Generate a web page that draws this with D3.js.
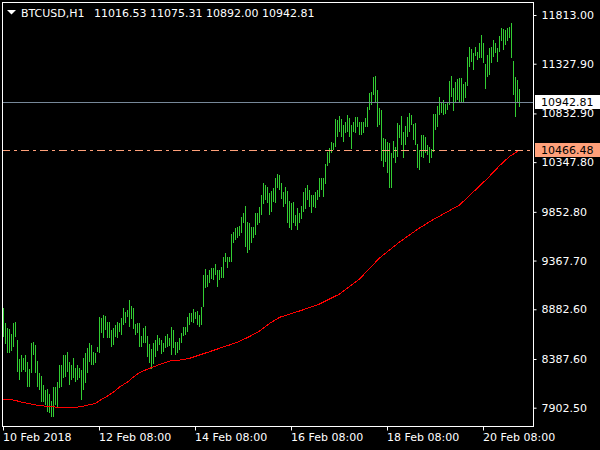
<!DOCTYPE html>
<html><head><meta charset="utf-8">
<script src="https://cdn.jsdelivr.net/npm/d3@7"></script>
<style>
html,body{margin:0;padding:0;background:#000;overflow:hidden}
svg{display:block}
text{font-family:"DejaVu Sans",sans-serif;font-size:11px}
</style>
</head><body>
<svg id="c" width="600" height="450"></svg>
<script>
const symbol = "BTCUSD,H1";
const lastOHLC = ["11016.53", "11075.31", "10892.00", "10942.81"];

const highs = [
8892,8749,8693,8683,8633,8743,8759,8576,8387,8427,8394,8427,8360,8288,8543,8559,8527,8370,8251,8218,
8128,8078,8088,8039,7969,8111,8111,8161,8327,8327,8427,8427,8460,8360,8327,8394,8294,8327,8294,8278,
8394,8444,8494,8543,8527,8460,8444,8510,8808,8792,8825,8815,8759,8759,8676,8693,8726,8752,8743,8792,
8892,8858,8875,8975,8915,8893,8736,8746,8746,8616,8693,8721,8616,8536,8487,8543,8576,8626,8593,8576,
8543,8616,8636,8593,8709,8676,8559,8559,8599,8649,8709,8709,8808,8842,8848,8882,8858,8868,8825,8908,
9224,9280,9224,9273,9296,9290,9330,9273,9273,9300,9406,9446,9406,9406,9632,9655,9695,9705,9712,9798,
9838,9911,9754,9738,9705,9705,9838,9844,9904,10020,10137,10120,10097,10037,10060,10093,10186,10229,10219,10137,
10053,10097,10060,9963,9938,9953,9821,9888,9844,9911,10053,10087,10120,10070,10020,10020,10053,10070,10186,10186,
10186,10329,10451,10485,10551,10535,10774,10767,10807,10774,10717,10750,10817,10784,10717,10750,10794,10800,10750,10750,
10750,10784,10900,11039,11043,11192,11205,11066,10884,10867,10585,10575,10551,10535,10435,10558,10501,10740,10717,10807,
10650,10707,10800,10840,10817,10727,10734,10528,10468,10618,10618,10601,10518,10495,10478,10824,10824,10909,10999,10933,
10966,10923,10949,11155,11208,11089,11148,11175,11182,11182,11122,11148,11397,11497,11474,11431,11497,11441,11531,11614,
11531,11322,11414,11481,11497,11564,11531,11487,11607,11680,11673,11663,11680,11696,11730,11355,11198,11165,11075.31
];
const lows = [
8609,8536,8450,8450,8467,8510,8606,8261,8178,8261,8278,8261,8111,8111,8245,8427,8245,8111,8078,7962,
7962,7929,7862,7846,7812,7812,7929,7912,8095,8111,8195,8211,8261,8128,8178,8195,8161,8178,8195,7979,
8078,8145,8245,8360,8327,8327,8344,8460,8444,8643,8593,8676,8593,8593,8510,8527,8609,8593,8659,8626,
8726,8743,8808,8709,8785,8685,8631,8643,8502,8502,8551,8543,8407,8344,8284,8337,8410,8470,8527,8434,
8460,8494,8510,8517,8427,8494,8427,8444,8477,8549,8616,8626,8659,8726,8759,8743,8782,8726,8709,8726,
8902,9091,9107,9141,9181,9174,9224,9107,9174,9191,9191,9356,9290,9356,9356,9539,9572,9589,9612,9639,
9738,9499,9440,9473,9545,9589,9622,9722,9738,9821,9931,9970,9938,9821,9854,9953,9943,10087,10070,9980,
9904,9931,9744,9689,9672,9738,9712,9672,9738,9778,9854,9878,9970,9904,9838,9904,9888,9970,10003,10070,
10003,10130,10309,10342,10435,10468,10501,10601,10650,10595,10551,10635,10650,10601,10475,10650,10635,10700,10618,10618,
10635,10700,10700,10867,10916,11016,10949,10700,10717,10364,10302,10352,10236,10087,10087,10386,10342,10402,10585,10518,
10386,10518,10601,10650,10717,10568,10518,10286,10269,10402,10386,10435,10420,10342,10392,10451,10668,10700,10817,10834,
10817,10824,10867,10916,10999,10857,10943,10966,10949,10943,10943,10989,11109,11298,11348,11265,11407,11365,11381,11387,
11332,11076,11198,11215,11332,11397,11431,11348,11447,11554,11464,11514,11554,11581,11381,11016,10800,10933,10892
];

const maIndex = [0,5,9,12,15,18,23,28,36,39,42,46,48,52,55,58,62,65,68,73,78,83,88,93,98,103,108,113,118,123,128,133,138,143,148,158,168,178,188,198,207,215,222,228,235,242,248,253,258];
const maValue = [7986,7979,7959,7946,7934,7924,7914,7906,7906,7914,7929,7944,7974,8019,8058,8108,8158,8208,8253,8294,8332,8367,8377,8394,8427,8460,8494,8527,8563,8611,8666,8741,8802,8835,8865,8935,9034,9184,9393,9552,9679,9778,9854,9921,10053,10186,10312,10404,10466.48];

const priceTicks = [11813.00, 11327.90, 10832.90, 10347.80, 9852.80, 9367.70, 8882.60, 8387.60, 7902.50];
const timeLabels = ["10 Feb 2018", "12 Feb 08:00", "14 Feb 08:00", "16 Feb 08:00", "18 Feb 08:00", "20 Feb 08:00"];
const timeIndex = [0, 48, 96, 144, 192, 240];
const bidPrice = 10942.81;
const maLast = 10466.48;

const svg = d3.select("#c");
svg.append("rect").attr("width", 600).attr("height", 450).attr("fill", "#000");

const x = d3.scaleLinear().domain([0, highs.length - 1]).range([3, 3 + 2 * (highs.length - 1)]);
const y = d3.scaleLinear().domain([7902.5, 11813]).range([407.7, 15]);

// bars
svg.append("g").selectAll("rect").data(highs).join("rect")
  .attr("x", (d, i) => x(i))
  .attr("y", d => Math.round(y(d)))
  .attr("width", 1)
  .attr("height", (d, i) => Math.max(1, Math.round(y(lows[i])) - Math.round(y(d))))
  .attr("fill", "#32CD32")
  .attr("shape-rendering", "crispEdges");

// moving average
const maPts = maIndex.map((d, i) => [d, maValue[i]]);
svg.append("path")
  .attr("d", d3.line().x(d => x(d[0]) + 0.5).y(d => y(d[1]))(maPts))
  .attr("fill", "none").attr("stroke", "#ff0000").attr("stroke-width", 1)
  .attr("shape-rendering", "crispEdges");

// bid line
const yb = Math.round(y(bidPrice)) + 0.5;
svg.append("line").attr("x1", 2).attr("x2", 533).attr("y1", yb).attr("y2", yb)
  .attr("stroke", "#778899").attr("stroke-width", 1);

// MA level line
const ym = Math.round(y(maLast)) + 0.5;
svg.append("line").attr("x1", 2).attr("x2", 533).attr("y1", ym).attr("y2", ym)
  .attr("stroke", "#FFA07A").attr("stroke-width", 1).attr("stroke-dasharray", "8,4,3,4");

// frame
svg.append("rect").attr("x", 2.5).attr("y", 2.5).attr("width", 531).attr("height", 424)
  .attr("fill", "none").attr("stroke", "#fff").attr("stroke-width", 1);

// price axis
const ya = svg.append("g").attr("transform", "translate(533.5,0)")
  .call(d3.axisRight(y).tickValues(priceTicks).tickSize(3).tickPadding(5).tickFormat(d3.format(".2f")));
ya.select(".domain").remove();
ya.selectAll("line").attr("stroke", "#fff");
ya.selectAll("text").attr("fill", "#fff").style("font-family", "DejaVu Sans").style("font-size", "11px");

// time axis
const xa = svg.append("g").attr("transform", "translate(0,426.5)")
  .call(d3.axisBottom(x).tickValues(timeIndex).tickSize(4).tickPadding(3).tickFormat((d, i) => timeLabels[i]));
xa.select(".domain").remove();
xa.selectAll("line").attr("stroke", "#fff");
xa.selectAll("text").attr("fill", "#fff").attr("text-anchor", "start").attr("x", -0.5)
  .style("font-family", "DejaVu Sans").style("font-size", "11px");

// bid label
svg.append("rect").attr("x", 535).attr("y", yb - 7.5).attr("width", 65).attr("height", 14).attr("fill", "#fff");
svg.append("text").attr("x", 541).attr("y", yb).attr("dy", "0.35em").attr("fill", "#000").text(bidPrice.toFixed(2));

// MA label
svg.append("rect").attr("x", 535).attr("y", ym - 7.5).attr("width", 65).attr("height", 14).attr("fill", "#FFA07A");
svg.append("text").attr("x", 541).attr("y", ym).attr("dy", "0.35em").attr("fill", "#000").text(maLast.toFixed(2));

// header
svg.append("path").attr("d", "M7,10L16,10L11.5,14.5Z").attr("fill", "#fff");
svg.append("text").attr("x", 21).attr("y", 17).attr("fill", "#fff").text(symbol);
svg.append("text").attr("x", 94).attr("y", 17).attr("fill", "#fff").text(lastOHLC.join(" "));
</script>
</body></html>
